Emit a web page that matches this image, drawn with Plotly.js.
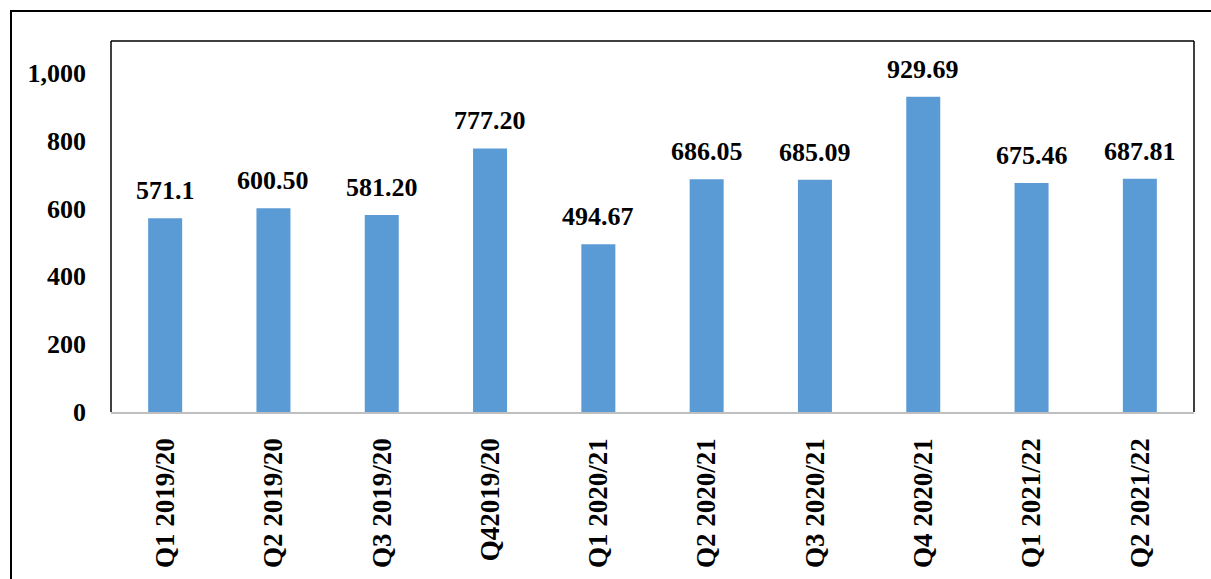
<!DOCTYPE html>
<html>
<head>
<meta charset="utf-8">
<script src="https://cdn.plot.ly/plotly-3.0.1.min.js"></script>
<style>
  html, body { margin: 0; padding: 0; background: #fff; }
  #wrap { position: relative; width: 1211px; height: 579px; overflow: hidden; }
  #chart { position: absolute; left: 0; top: 0; width: 1211px; height: 579px; }
  #frame { position: absolute; left: 10px; top: 10px; width: 1220px; height: 600px;
           border-left: 2px solid #000; border-top: 2px solid #000; pointer-events: none; }
</style>
</head>
<body>
<div id="wrap">
  <div id="chart"></div>
  <div id="frame"></div>
</div>
<script>
const categories = ["Q1 2019/20", "Q2 2019/20", "Q3 2019/20", "Q42019/20", "Q1 2020/21",
                    "Q2 2020/21", "Q3 2020/21", "Q4 2020/21", "Q1 2021/22", "Q2 2021/22"];
const values = [571.1, 600.50, 581.20, 777.20, 494.67, 686.05, 685.09, 929.69, 675.46, 687.81];
const valueLabels = ["571.1", "600.50", "581.20", "777.20", "494.67",
                     "686.05", "685.09", "929.69", "675.46", "687.81"];
const yTicks = [0, 200, 400, 600, 800, 1000];

const FONT = "'Liberation Serif', 'Times New Roman', serif";

const trace = {
  type: "bar",
  x: categories,
  y: values,
  marker: { color: "#5B9BD5" },
  hoverinfo: "x+y"
};

const annotations = categories.map((c, i) => ({
  x: c, y: values[i], xref: "x", yref: "y",
  text: "<b>" + valueLabels[i] + "</b>",
  showarrow: false, yanchor: "bottom", yshift: 11,
  font: { family: FONT, size: 26, color: "#000" }
}));

const shapes = [
  { type: "line", xref: "paper", yref: "paper", x0: 0, y0: 0, x1: 0, y1: 1, line: { color: "#000", width: 1.5 } },
  { type: "line", xref: "paper", yref: "paper", x0: 0, y0: 1, x1: 1, y1: 1, line: { color: "#000", width: 1.5 } },
  { type: "line", xref: "paper", yref: "paper", x0: 1, y0: 1, x1: 1, y1: 0, line: { color: "#000", width: 1.5 } }
];

const layout = {
  width: 1211, height: 579,
  margin: { l: 111, r: 17, t: 41, b: 167 },
  paper_bgcolor: "#fff", plot_bgcolor: "#fff",
  showlegend: false,
  bargap: 0.686,
  xaxis: {
    type: "category",
    tickangle: -90,
    showgrid: false,
    showline: true, linecolor: "#BFBFBF", linewidth: 1.5,
    ticks: "",
    ticklabelstandoff: 14,
    tickfont: { family: FONT, size: 27, color: "#000", weight: "bold" },
    fixedrange: true
  },
  yaxis: {
    range: [0, 1094],
    tickvals: yTicks,
    tickformat: ",d",
    showgrid: false, zeroline: false, showline: false,
    ticks: "",
    ticklabelstandoff: 24,
    tickfont: { family: FONT, size: 26, color: "#000", weight: "bold" },
    fixedrange: true
  },
  annotations: annotations,
  shapes: shapes
};

Plotly.newPlot("chart", [trace], layout, { displayModeBar: false, staticPlot: true });
</script>
</body>
</html>
